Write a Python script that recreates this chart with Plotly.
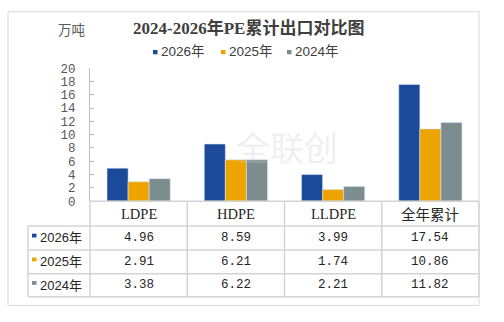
import plotly.graph_objects as go

categories = ["LDPE", "HDPE", "LLDPE", "全年累计"]
series_names = ["2026年", "2025年", "2024年"]
values_2026 = [4.96, 8.59, 3.99, 17.54]
values_2025 = [2.91, 6.21, 1.74, 10.86]
values_2024 = [3.38, 6.22, 2.21, 11.82]
series_values = [values_2026, values_2025, values_2024]
colors = ["#1B4A9B", "#EEA400", "#7B8D8F"]

W, H = 504, 322

def px(x):
    return x / W

def py(y):
    return 1 - y / H

X0, X1 = 90, 479      # plot area left/right in px
YTOP, YBASE = 65, 204  # plot area top/baseline in px
row_lines = [204, 230, 255, 280, 304]
TL = 28               # table left edge
grid = "#D4D4D4"
CJK = "Noto Sans CJK SC"

fig = go.Figure()
for name, vals, c in zip(series_names, series_values, colors):
    fig.add_trace(go.Bar(
        x=categories, y=vals, name=name,
        marker=dict(color=c, line=dict(color="rgba(220,230,240,0.9)", width=0.6)),
        showlegend=False,
    ))

shapes = []
annotations = []

# outer frame
shapes.append(dict(type="rect", xref="paper", yref="paper",
                   x0=px(8), x1=px(479), y0=py(313), y1=py(6),
                   line=dict(color="#D9D9D9", width=1)))

# table horizontal lines
shapes.append(dict(type="line", xref="paper", yref="paper",
                   x0=px(X0), x1=px(X1), y0=py(row_lines[0]), y1=py(row_lines[0]),
                   line=dict(color=grid, width=1.5)))
for yl in row_lines[1:]:
    shapes.append(dict(type="line", xref="paper", yref="paper",
                       x0=px(TL), x1=px(X1), y0=py(yl), y1=py(yl),
                       line=dict(color=grid, width=1.5)))
# vertical lines
ncat = len(categories)
cw = (X1 - X0) / ncat
col_edges = [X0 + i * cw for i in range(ncat + 1)]
for i, xe in enumerate(col_edges):
    shapes.append(dict(type="line", xref="paper", yref="paper",
                       x0=px(xe), x1=px(xe), y0=py(row_lines[0]), y1=py(row_lines[-1]),
                       line=dict(color=grid, width=1.5)))
shapes.append(dict(type="line", xref="paper", yref="paper",
                   x0=px(TL), x1=px(TL), y0=py(row_lines[1]), y1=py(row_lines[-1]),
                   line=dict(color=grid, width=1.5)))

# header labels
for i, cat in enumerate(categories):
    cx = (col_edges[i] + col_edges[i + 1]) / 2
    is_cjk = any(ord(ch) > 255 for ch in cat)
    annotations.append(dict(
        xref="paper", yref="paper", x=px(cx), y=py((row_lines[0] + row_lines[1]) / 2),
        text=cat, showarrow=False, xanchor="center", yanchor="middle",
        font=dict(family=CJK if is_cjk else "Liberation Serif",
                  size=14.5, color="#262626")))

# data rows
for r, (name, vals, c) in enumerate(zip(series_names, series_values, colors)):
    cy = (row_lines[r + 1] + row_lines[r + 2]) / 2
    shapes.append(dict(type="rect", xref="paper", yref="paper",
                       x0=px(32), x1=px(36.5), y0=py(cy - 4.5), y1=py(cy - 0.5),
                       fillcolor=c, line=dict(width=0)))
    annotations.append(dict(
        xref="paper", yref="paper", x=px(38), y=py(cy), text=name, showarrow=False,
        xanchor="left", yanchor="middle",
        font=dict(family="Liberation Sans, " + CJK, size=13, color="#262626")))
    for i, v in enumerate(vals):
        cx = (col_edges[i] + col_edges[i + 1]) / 2
        annotations.append(dict(
            xref="paper", yref="paper", x=px(cx), y=py(cy), text=f"{v:.2f}",
            showarrow=False, xanchor="center", yanchor="middle",
            font=dict(family="Liberation Mono", size=12.5, color="#262626")))

# legend (manual)
leg_x = [153, 221, 287]
for lx, name, c in zip(leg_x, series_names, colors):
    shapes.append(dict(type="rect", xref="paper", yref="paper",
                       x0=px(lx), x1=px(lx + 4.5), y0=py(50.5), y1=py(46),
                       fillcolor=c, line=dict(width=0)))
    annotations.append(dict(
        xref="paper", yref="paper", x=px(lx + 6), y=py(48), text=name, showarrow=False,
        xanchor="left", yanchor="middle",
        font=dict(family="Liberation Sans, " + CJK, size=13.5, color="#404040")))

# title and unit
annotations.append(dict(
    xref="paper", yref="paper", x=px(248), y=py(23),
    text="<b>2024-2026年PE累计出口对比图</b>", showarrow=False,
    xanchor="center", yanchor="middle",
    font=dict(family="Liberation Serif, " + CJK, size=17, color="#404040")))
annotations.append(dict(
    xref="paper", yref="paper", x=px(71), y=py(24), text="万吨", showarrow=False,
    xanchor="center", yanchor="middle",
    font=dict(family=CJK, size=13.5, color="#595959")))

# faint watermark
annotations.append(dict(
    xref="paper", yref="paper", x=px(287), y=py(147), text="全联创", showarrow=False,
    xanchor="center", yanchor="middle",
    font=dict(family=CJK, size=34, color="rgba(200,200,200,0.3)")))

fig.update_layout(
    width=W, height=H,
    margin=dict(l=0, r=0, t=0, b=0),
    paper_bgcolor="white", plot_bgcolor="white",
    barmode="group", bargap=0.35, bargroupgap=0,
    xaxis=dict(domain=[px(X0), px(X1)], showticklabels=False, showline=False,
               showgrid=False, zeroline=False, ticks=""),
    yaxis=dict(domain=[py(YBASE), py(YTOP)], range=[0, 20], dtick=2,
               showgrid=False, zeroline=False, showline=True, linecolor="#BFBFBF",
               linewidth=1, ticks="inside", ticklen=4, tickcolor="#BFBFBF",
               tickfont=dict(family="Liberation Mono", size=12.5, color="#595959"),
               ticklabelstandoff=11),
    shapes=shapes, annotations=annotations,
)

fig.write_html("out.html")
